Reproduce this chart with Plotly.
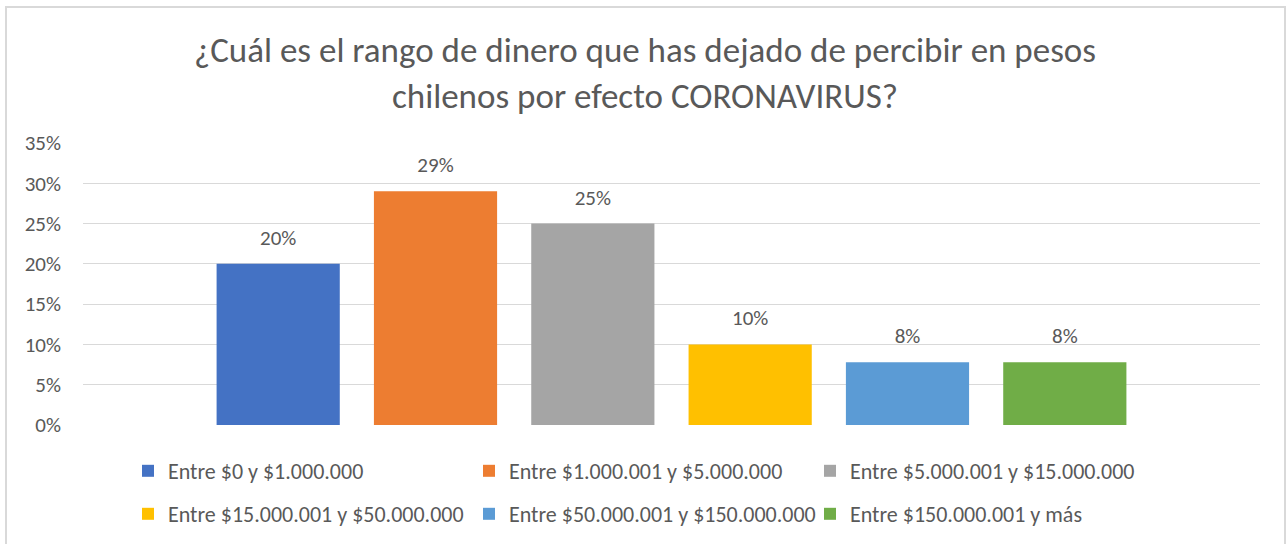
import plotly.graph_objects as go

title_text = "¿Cuál es el rango de dinero que has dejado de percibir en pesos<br>chilenos por efecto CORONAVIRUS?"
series_names = [
    "Entre $0 y $1.000.000",
    "Entre $1.000.001 y $5.000.000",
    "Entre $5.000.001 y $15.000.000",
    "Entre $15.000.001 y $50.000.000",
    "Entre $50.000.001 y $150.000.000",
    "Entre $150.000.001 y más",
]
values = [0.20, 0.29, 0.25, 0.10, 0.078, 0.078]
colors = ["#4472C4", "#ED7D31", "#A5A5A5", "#FFC000", "#5B9BD5", "#70AD47"]
category = [""]
y_ticks = [0, 0.05, 0.10, 0.15, 0.20, 0.25, 0.30, 0.35]

FONT = "Calibri, Carlito, Lato, sans-serif"
GRAY = "#595959"

fig = go.Figure()
for i, (name, v, c) in enumerate(zip(series_names, values, colors)):
    fig.add_trace(go.Bar(
        x=category, y=[v], name=name,
        marker=dict(color=c, line=dict(width=0)),
        texttemplate="<span style='font-size:21px'>%{y:.0%}</span><br> ",
        textposition="outside",
        textfont=dict(family=FONT, size=10, color=GRAY),
        cliponaxis=False,
        legend="legend" if i < 3 else "legend2",
        hoverinfo="skip",
    ))

L, R, T, B = 83, 28, 143, 119
W, H = 1288, 544
pw, ph = W - L - R, H - T - B

def px_x(x):
    return (x - L) / pw

def px_y(y):
    return (H - B - y) / ph

legend_common = dict(
    orientation="h", font=dict(family=FONT, size=22, color=GRAY),
    entrywidth=296, entrywidthmode="pixels", bgcolor="rgba(0,0,0,0)",
    xref="container", yref="container",
    xanchor="left", yanchor="middle", itemwidth=30, traceorder="normal",
)

fig.update_layout(
    width=W, height=H, autosize=False,
    margin=dict(l=L, r=R, t=T, b=B, autoexpand=False),
    paper_bgcolor="white", plot_bgcolor="white",
    barmode="group", bargap=0.198, bargroupgap=0.217,
    title=dict(text=title_text, x=645 / W, xref="container", xanchor="center",
               y=1 - 62 / H, yanchor="middle",
               font=dict(family=FONT, size=35, color=GRAY)),
    xaxis=dict(showticklabels=False, showgrid=False, zeroline=False, showline=False),
    yaxis=dict(range=[0, 0.35], tickvals=y_ticks, tickformat=".0%",
               showgrid=True, gridcolor="#D9D9D9", gridwidth=1,
               zeroline=False, showline=False, ticks="", ticklabelstandoff=21,
               tickfont=dict(family=FONT, size=21, color=GRAY)),
    legend=dict(x=128 / W, y=1 - 471 / H, **legend_common),
    legend2=dict(x=128 / W, y=1 - 514 / H, **legend_common),
    showlegend=True,
    shapes=[dict(type="rect", xref="paper", yref="paper",
                 x0=px_x(6), x1=px_x(1285), y0=px_y(560), y1=px_y(7),
                 line=dict(color="#D9D9D9", width=2), fillcolor="rgba(0,0,0,0)", layer="below")],
)

fig.write_html("out.html", config={"displayModeBar": False},
               post_script="document.body.style.margin='0';document.body.style.padding='0';")
